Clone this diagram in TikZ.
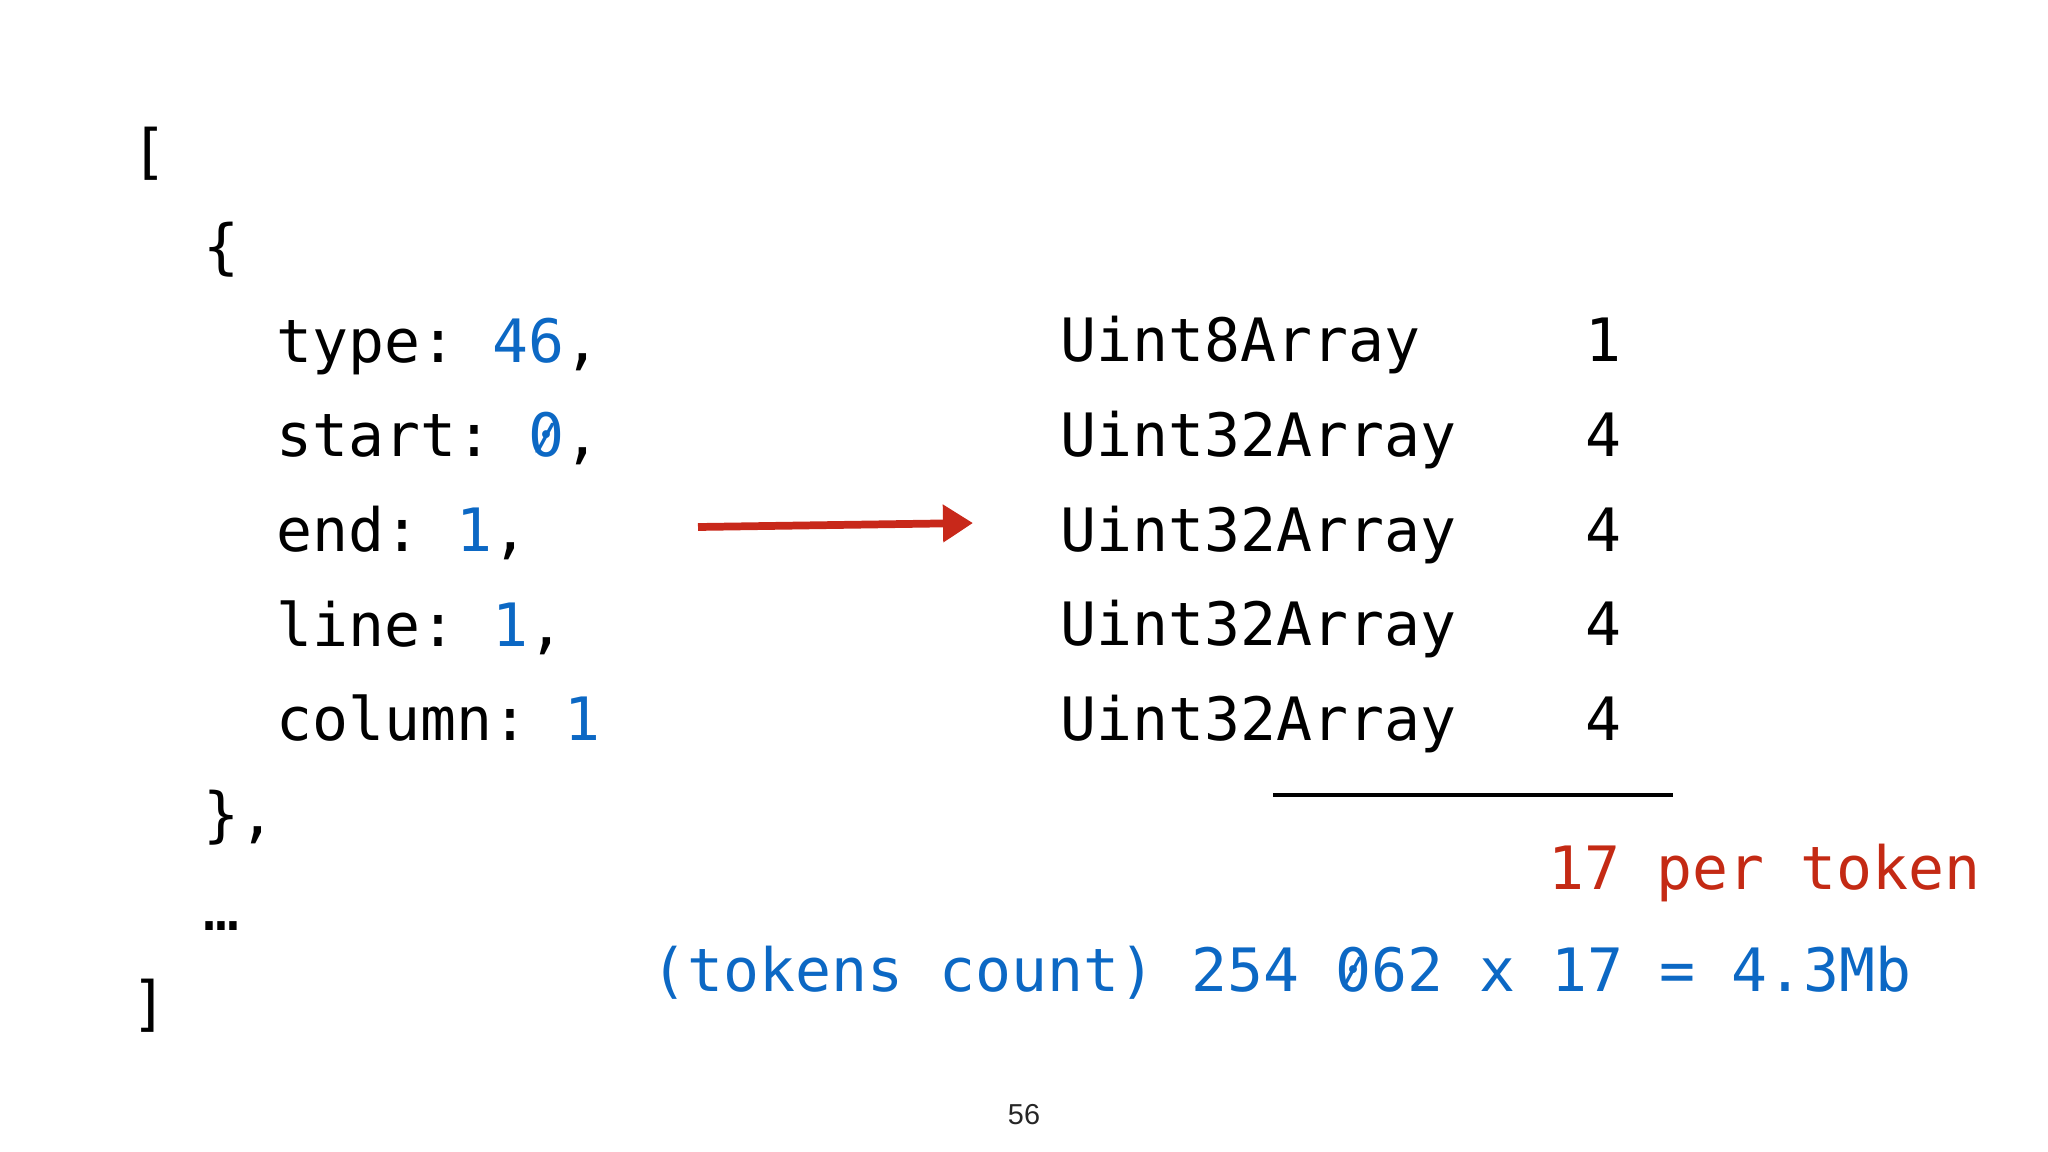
\documentclass[tikz,border=0pt]{standalone}
\usepackage{fontspec}
\setmonofont{DejaVu Sans Mono}
\setsansfont{Liberation Sans}
\usepackage{tikz}
\usetikzlibrary{positioning, arrows.meta}
\definecolor{numblue}{RGB}{12,104,196}
\definecolor{tokred}{RGB}{196,42,20}
\definecolor{penred}{RGB}{200,40,26}
\newcommand{\slashzero}{\ooalign{0\cr\hidewidth\raisebox{0.13em}{\scalebox{0.7}[0.6]{/}}\hidewidth\cr}}
\tikzstyle{code} = [
	inner sep=0pt,
	anchor=base west,
	font=\ttfamily\fontsize{17}{20}\selectfont
]
\tikzstyle{num} = [code, text=numblue]
\tikzstyle{arrow} = [draw=penred, line width=2.2pt, -{Triangle[length=0.3cm, width=0.36cm]}]

\begin{document}
\begin{tikzpicture}[x=0.01cm, y=-0.01cm, node distance=0.946cm]
        \useasboundingbox (0,0) rectangle (2048,1152);
        % object literal
        \node (open) [code] at (131,173) {[};
        \node (objopen) [code, below=of open.base west, anchor=base west, xshift=0.722cm] {\{};
        \node (type) [code, below=of objopen.base west, anchor=base west, xshift=0.722cm] {type: \textcolor{numblue}{46},};
        \node (start) [code, below=of type.base west, anchor=base west] {start: \textcolor{numblue}{\slashzero},};
        \node (end) [code, below=of start.base west, anchor=base west] {end: \textcolor{numblue}{1},};
        \node (line) [code, below=of end.base west, anchor=base west] {line: \textcolor{numblue}{1},};
        \node (column) [code, below=of line.base west, anchor=base west] {column: \textcolor{numblue}{1}};
        \node (objclose) [code, below=of column.base west, anchor=base west, xshift=-0.722cm] {\},};
        \node (more) [code, below=of objclose.base west, anchor=base west] {…};
        \node (close) [code, below=of more.base west, anchor=base west, xshift=-0.722cm] {]};
        % typed arrays
        \node (u8) [code] at (1060,362) {Uint8Array};
        \node (u32a) [code, below=of u8.base west, anchor=base west] {Uint32Array};
        \node (u32b) [code, below=of u32a.base west, anchor=base west] {Uint32Array};
        \node (u32c) [code, below=of u32b.base west, anchor=base west] {Uint32Array};
        \node (u32d) [code, below=of u32c.base west, anchor=base west] {Uint32Array};
        \node (b8) [code] at (1585,362) {1};
        \node (b32a) [code, below=of b8.base west, anchor=base west] {4};
        \node (b32b) [code, below=of b32a.base west, anchor=base west] {4};
        \node (b32c) [code, below=of b32b.base west, anchor=base west] {4};
        \node (b32d) [code, below=of b32c.base west, anchor=base west] {4};
        % totals
        \coordinate (sumL) at (1273,795);
        \coordinate (sumR) at (1673,795);
        \draw [line width=1.4pt] (sumL) -- (sumR);
        \node (pertoken) [code, text=tokred] at (1548,889) {17 per token};
        \node (total) [num] at (651,991) {(tokens count) 254 \slashzero62 x 17 = 4.3Mb};
        \coordinate (from) at (698,527);
        \coordinate (to) at (973,523);
        \draw [arrow] (from) -- (to);
        \node (page) [font=\sffamily\fontsize{8.2}{10}\selectfont, text=black!85] at (1024,1115) {56};
      \end{tikzpicture}
\end{document}
